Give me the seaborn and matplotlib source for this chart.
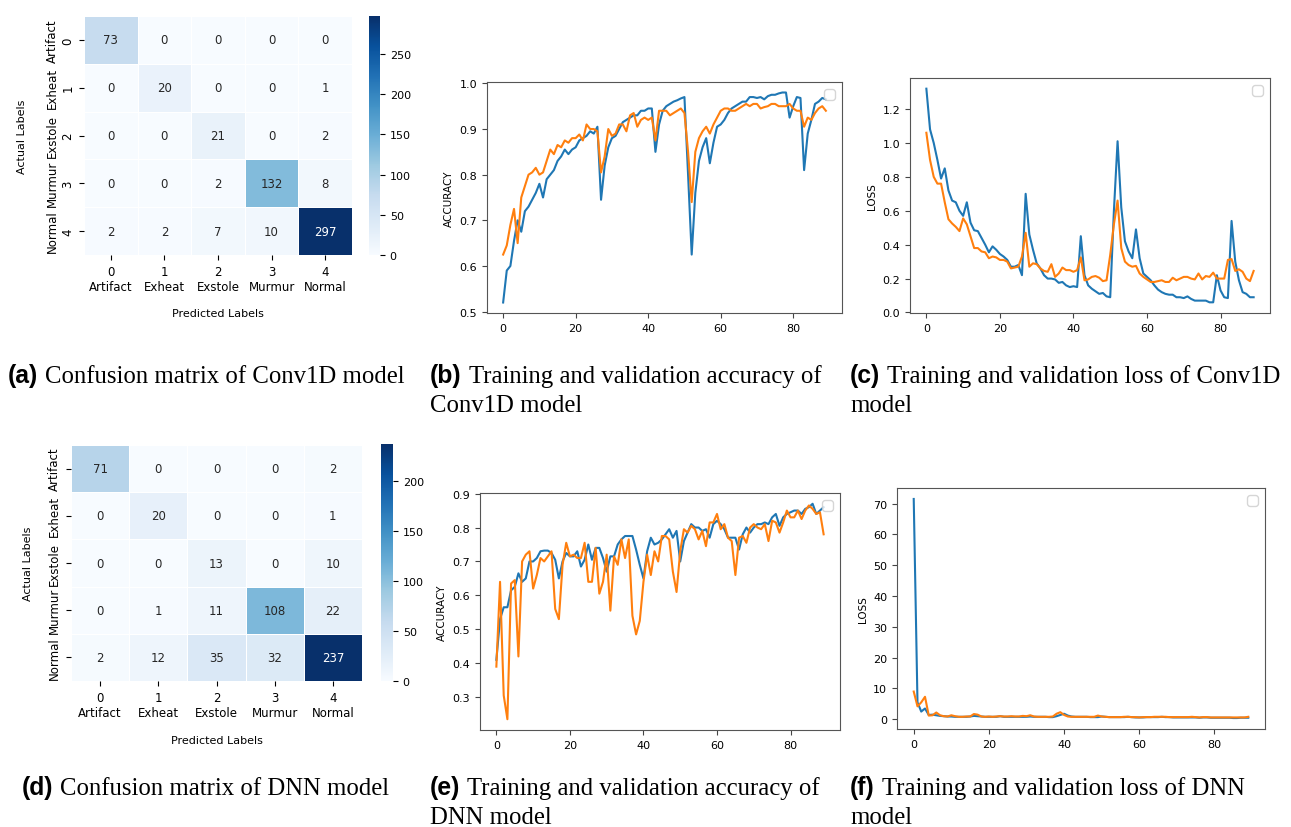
import numpy as np
import pandas as pd
import matplotlib
matplotlib.use("Agg")
import matplotlib.pyplot as plt
import seaborn as sns

W, H = 1291, 828

classes = ["Artifact", "Exheat", "Exstole", "Murmur", "Normal"]

cm_conv1d = [[73, 0, 0, 0, 0],
             [0, 20, 0, 0, 1],
             [0, 0, 21, 0, 2],
             [0, 0, 2, 132, 8],
             [2, 2, 7, 10, 297]]

cm_dnn = [[71, 0, 0, 0, 2],
          [0, 20, 0, 0, 1],
          [0, 0, 13, 0, 10],
          [0, 1, 11, 108, 22],
          [2, 12, 35, 32, 237]]

# Conv1D accuracy (train / validation), one value per epoch
acc_conv_train = [0.52, 0.59, 0.60, 0.655, 0.70, 0.675, 0.72, 0.73, 0.745, 0.76,
                  0.78, 0.75, 0.79, 0.80, 0.81, 0.83, 0.84, 0.855, 0.845, 0.855,
                  0.86, 0.875, 0.88, 0.885, 0.895, 0.89, 0.905, 0.745, 0.82, 0.86,
                  0.88, 0.885, 0.90, 0.915, 0.92, 0.925, 0.93, 0.93, 0.94, 0.94,
                  0.945, 0.945, 0.85, 0.91, 0.94, 0.95, 0.955, 0.96, 0.963, 0.967,
                  0.97, 0.80, 0.625, 0.76, 0.83, 0.86, 0.88, 0.825, 0.87, 0.905,
                  0.91, 0.92, 0.935, 0.945, 0.95, 0.955, 0.96, 0.96, 0.97, 0.97,
                  0.968, 0.97, 0.965, 0.972, 0.975, 0.975, 0.978, 0.98, 0.98, 0.925,
                  0.95, 0.97, 0.968, 0.81, 0.89, 0.92, 0.955, 0.96, 0.968, 0.965]
acc_conv_val = [0.625, 0.645, 0.69, 0.725, 0.65, 0.75, 0.775, 0.80, 0.805, 0.815,
                0.80, 0.805, 0.83, 0.855, 0.845, 0.865, 0.86, 0.875, 0.87, 0.88,
                0.88, 0.888, 0.875, 0.91, 0.90, 0.90, 0.895, 0.805, 0.84, 0.90,
                0.885, 0.89, 0.91, 0.91, 0.895, 0.93, 0.935, 0.905, 0.92, 0.925,
                0.92, 0.925, 0.875, 0.94, 0.94, 0.94, 0.93, 0.935, 0.94, 0.945,
                0.935, 0.85, 0.74, 0.85, 0.88, 0.895, 0.905, 0.89, 0.91, 0.925,
                0.94, 0.945, 0.945, 0.94, 0.94, 0.945, 0.95, 0.955, 0.95, 0.955,
                0.955, 0.945, 0.948, 0.95, 0.955, 0.955, 0.95, 0.95, 0.95, 0.955,
                0.945, 0.94, 0.94, 0.905, 0.925, 0.92, 0.935, 0.945, 0.95, 0.94]

# Conv1D loss
loss_conv_train = [1.32, 1.08, 1.00, 0.90, 0.79, 0.85, 0.72, 0.66, 0.65, 0.60,
                   0.57, 0.65, 0.53, 0.485, 0.48, 0.44, 0.40, 0.355, 0.39, 0.37,
                   0.345, 0.33, 0.31, 0.27, 0.27, 0.28, 0.22, 0.70, 0.46, 0.37,
                   0.29, 0.26, 0.22, 0.20, 0.20, 0.195, 0.175, 0.18, 0.16, 0.15,
                   0.155, 0.15, 0.45, 0.22, 0.16, 0.14, 0.125, 0.11, 0.115, 0.095,
                   0.09, 0.60, 1.01, 0.62, 0.42, 0.36, 0.32, 0.49, 0.32, 0.23,
                   0.21, 0.19, 0.16, 0.135, 0.12, 0.11, 0.105, 0.105, 0.09, 0.09,
                   0.085, 0.095, 0.08, 0.07, 0.07, 0.07, 0.07, 0.06, 0.06, 0.22,
                   0.13, 0.09, 0.085, 0.54, 0.30, 0.19, 0.12, 0.11, 0.09, 0.09]
loss_conv_val = [1.06, 0.90, 0.80, 0.76, 0.76, 0.65, 0.55, 0.525, 0.505, 0.48,
                 0.555, 0.52, 0.45, 0.38, 0.38, 0.36, 0.355, 0.32, 0.33, 0.325,
                 0.31, 0.31, 0.30, 0.26, 0.265, 0.27, 0.33, 0.47, 0.27, 0.29,
                 0.285, 0.26, 0.245, 0.24, 0.285, 0.21, 0.23, 0.265, 0.25, 0.25,
                 0.24, 0.25, 0.325, 0.19, 0.195, 0.21, 0.215, 0.205, 0.185, 0.19,
                 0.34, 0.52, 0.66, 0.38, 0.30, 0.28, 0.27, 0.275, 0.23, 0.21,
                 0.195, 0.18, 0.18, 0.185, 0.19, 0.18, 0.18, 0.205, 0.19, 0.20,
                 0.21, 0.21, 0.20, 0.195, 0.23, 0.195, 0.215, 0.21, 0.235, 0.20,
                 0.20, 0.20, 0.31, 0.315, 0.245, 0.255, 0.24, 0.20, 0.185, 0.245]

# DNN accuracy
acc_dnn_train = [0.41, 0.53, 0.565, 0.565, 0.615, 0.625, 0.665, 0.64, 0.65, 0.70,
                 0.70, 0.71, 0.73, 0.732, 0.732, 0.725, 0.705, 0.65, 0.70, 0.725,
                 0.715, 0.715, 0.73, 0.685, 0.705, 0.75, 0.705, 0.74, 0.74, 0.71,
                 0.67, 0.715, 0.715, 0.75, 0.765, 0.775, 0.775, 0.775, 0.735, 0.69,
                 0.65, 0.73, 0.77, 0.75, 0.755, 0.765, 0.78, 0.795, 0.77, 0.79,
                 0.70, 0.76, 0.785, 0.81, 0.80, 0.80, 0.79, 0.795, 0.77, 0.81,
                 0.82, 0.81, 0.795, 0.77, 0.77, 0.77, 0.735, 0.78, 0.80, 0.785,
                 0.80, 0.81, 0.81, 0.815, 0.81, 0.83, 0.84, 0.805, 0.83, 0.84,
                 0.845, 0.85, 0.85, 0.84, 0.855, 0.86, 0.87, 0.84, 0.85, 0.86]
acc_dnn_val = [0.39, 0.64, 0.305, 0.235, 0.635, 0.645, 0.42, 0.70, 0.72, 0.73,
               0.62, 0.66, 0.71, 0.70, 0.715, 0.73, 0.56, 0.53, 0.69, 0.755,
               0.715, 0.72, 0.71, 0.71, 0.755, 0.64, 0.64, 0.74, 0.605, 0.64,
               0.72, 0.555, 0.715, 0.69, 0.765, 0.71, 0.765, 0.54, 0.485, 0.525,
               0.64, 0.72, 0.66, 0.73, 0.70, 0.775, 0.775, 0.765, 0.67, 0.61,
               0.73, 0.795, 0.785, 0.805, 0.795, 0.765, 0.79, 0.745, 0.815, 0.815,
               0.84, 0.795, 0.81, 0.77, 0.76, 0.66, 0.77, 0.775, 0.755, 0.80,
               0.81, 0.80, 0.795, 0.81, 0.76, 0.82, 0.815, 0.785, 0.815, 0.85,
               0.83, 0.83, 0.85, 0.825, 0.85, 0.865, 0.855, 0.84, 0.845, 0.78]

# DNN loss
loss_dnn_train = [71.5, 5.5, 2.5, 3.5, 1.4, 1.5, 1.3, 1.1, 1.0, 0.9,
                  0.9, 0.8, 0.8, 0.8, 0.8, 0.9, 1.1, 1.0, 0.9, 0.8,
                  0.8, 0.8, 0.8, 1.0, 0.8, 0.8, 0.8, 0.8, 0.8, 0.8,
                  0.8, 0.9, 0.8, 0.8, 0.8, 0.8, 0.7, 0.7, 1.0, 1.4,
                  1.8, 1.2, 0.9, 0.8, 0.8, 0.8, 0.8, 0.7, 0.7, 0.7,
                  0.9, 0.8, 0.7, 0.7, 0.7, 0.7, 0.7, 0.8, 0.7, 0.6,
                  0.6, 0.6, 0.7, 0.7, 0.7, 0.7, 0.8, 0.7, 0.7, 0.6,
                  0.6, 0.6, 0.6, 0.6, 0.6, 0.6, 0.5, 0.6, 0.6, 0.5,
                  0.5, 0.5, 0.5, 0.5, 0.5, 0.4, 0.4, 0.5, 0.5, 0.5]
loss_dnn_val = [9.0, 4.2, 5.5, 7.3, 1.2, 1.3, 2.2, 1.3, 1.0, 0.9,
                1.3, 1.0, 0.8, 0.8, 0.9, 0.9, 1.7, 1.5, 0.9, 0.8,
                0.9, 0.8, 0.9, 1.0, 0.9, 0.9, 1.0, 0.9, 0.9, 1.1,
                1.0, 1.3, 0.9, 0.8, 0.8, 0.8, 0.8, 0.9, 1.8, 2.3,
                1.4, 0.9, 0.8, 0.8, 0.8, 0.8, 0.8, 0.8, 0.8, 1.2,
                0.9, 0.8, 0.7, 0.7, 0.7, 0.7, 0.8, 0.8, 0.7, 0.7,
                0.6, 0.7, 0.7, 0.7, 0.8, 0.8, 0.8, 0.8, 0.7, 0.7,
                0.7, 0.7, 0.7, 0.7, 0.8, 0.7, 0.6, 0.7, 0.7, 0.6,
                0.6, 0.6, 0.6, 0.6, 0.6, 0.6, 0.6, 0.6, 0.6, 0.8]


def px_rect(left, top, right, bottom):
    # pixel box -> figure fraction [l, b, w, h]
    return [left / W, 1 - bottom / H, (right - left) / W, (bottom - top) / H]


fig = plt.figure(figsize=(W / 100, H / 100), dpi=100)
fig.patch.set_facecolor("white")


def draw_cm(cm, rect, cbar_rect, ylabels, ypad, xpad):
    ax = fig.add_axes(px_rect(*rect))
    cax = fig.add_axes(px_rect(*cbar_rect))
    sns.heatmap(cm, annot=True, fmt="d", cmap="Blues", linewidths=0.6,
                linecolor="white", ax=ax, cbar_ax=cax, annot_kws={"size": 8.5})
    ax.set_xticklabels([f"{i}\n{c}" for i, c in enumerate(classes)],
                       rotation=0, fontsize=8.5)
    ax.set_yticklabels(ylabels, rotation=90, va="center", ma="center", fontsize=8.5)
    ax.set_xlabel("Predicted Labels", fontsize=8, labelpad=xpad)
    ax.set_ylabel("Actual Labels", fontsize=8, labelpad=ypad)
    cax.tick_params(labelsize=8)
    return ax


def draw_curve(train, val, rect, ylabel):
    ax = fig.add_axes(px_rect(*rect))
    df = pd.DataFrame({"epoch": np.arange(len(train)), "train": train, "val": val})
    sns.lineplot(data=df, x="epoch", y="train", color="#1f77b4", lw=1.5, ax=ax)
    sns.lineplot(data=df, x="epoch", y="val", color="#ff7f0e", lw=1.5, ax=ax)
    ax.set_xlabel("")
    ax.set_ylabel(ylabel, fontsize=7.5)
    ax.tick_params(labelsize=8, color="#444444")
    for s in ax.spines.values():
        s.set_color("#555555")
    ax.legend(handles=[], loc="upper right")
    return ax


# (a) and (d) confusion matrices
draw_cm(cm_conv1d, (84, 17, 352, 256), (369, 17, 380, 256),
        [f"{c}\n{i}" for i, c in enumerate(classes)], ypad=14, xpad=11)
draw_cm(cm_dnn, (71, 446, 362, 682), (381, 445, 393, 682),
        classes, ypad=11, xpad=12)

# training curves
draw_curve(acc_conv_train, acc_conv_val, (487, 83, 842, 314), "ACCURACY")
draw_curve(loss_conv_train, loss_conv_val, (910, 79, 1270, 314), "LOSS")
draw_curve(acc_dnn_train, acc_dnn_val, (480, 494, 840, 731), "ACCURACY")
draw_curve(loss_dnn_train, loss_dnn_val, (897, 489, 1265, 730), "LOSS")

# captions: bold sans tag followed by serif text
renderer = fig.canvas.get_renderer()


def caption(x, y, tag, text, line2=None, dy=29):
    t = fig.text(x / W, 1 - y / H, tag, fontsize=17.8, fontweight="bold",
                 family="Liberation Sans", va="baseline")
    bb = t.get_window_extent(renderer=renderer)
    fig.text((bb.x1 + 7) / W, 1 - y / H, text, fontsize=17.8,
             family="Liberation Serif", va="baseline")
    if line2:
        fig.text(x / W, 1 - (y + dy) / H, line2, fontsize=17.8,
                 family="Liberation Serif", va="baseline")


caption(8, 383, "(a)", "Confusion matrix of Conv1D model")
caption(430, 383, "(b)", "Training and validation accuracy of", "Conv1D model")
caption(850, 383, "(c)", "Training and validation loss of Conv1D", "model")
caption(22, 795, "(d)", "Confusion matrix of DNN model")
caption(430, 795, "(e)", "Training and validation accuracy of", "DNN model")
caption(850, 795, "(f)", "Training and validation loss of DNN", "model")

fig.savefig("out.png", dpi=100)
